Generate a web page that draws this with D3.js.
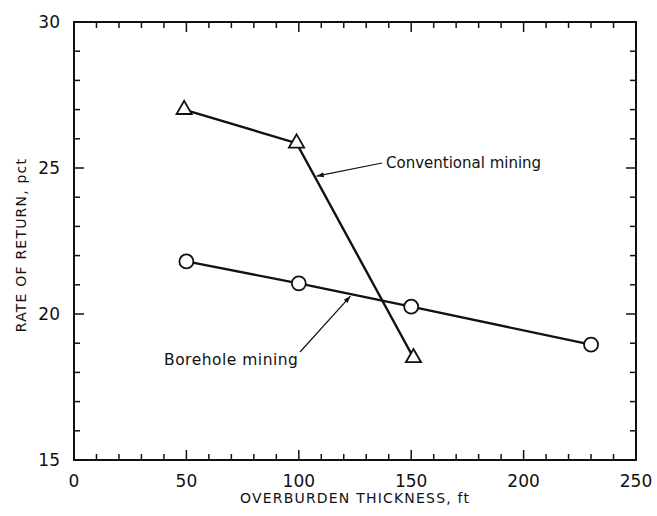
<!DOCTYPE html>
<html>
<head>
<meta charset="utf-8">
<script src="https://cdn.jsdelivr.net/npm/d3@7"></script>
<style>
  body { margin: 0; background: #fff; }
  text { font-family: 'DejaVu Sans', sans-serif; fill: #111; }
</style>
</head>
<body>
<div id="chart-area"></div>
<script>
'use strict';
const svg_width = 657;
const svg_height = 516;
const margin = {top: 22, right: 21, bottom: 56, left: 74};

// data
const conv_x = [49, 99, 151];
const conv_y = [27.0, 25.85, 18.5];
const bore_x = [50, 100, 150, 230];
const bore_y = [21.8, 21.05, 20.25, 18.95];
const x_ticks = [0, 50, 100, 150, 200, 250];
const y_ticks = [15, 20, 25, 30];

const conventional = conv_x.map((x, i) => ({x: x, y: conv_y[i]}));
const borehole = bore_x.map((x, i) => ({x: x, y: bore_y[i]}));

const svg = d3.select('#chart-area')
  .append('svg')
    .attr('width', svg_width)
    .attr('height', svg_height);

const x_scale = d3.scaleLinear()
  .domain([0, 250])
  .range([margin.left, svg_width - margin.right]);

const y_scale = d3.scaleLinear()
  .domain([15, 30])
  .range([svg_height - margin.bottom, margin.top]);

const x0 = x_scale(0), x1 = x_scale(250);
const y0 = y_scale(15), y1 = y_scale(30);

// frame
svg.append('rect')
  .attr('x', x0).attr('y', y1)
  .attr('width', x1 - x0).attr('height', y0 - y1)
  .attr('fill', 'none').attr('stroke', '#111').attr('stroke-width', 2);

// inward ticks on all four sides
const x_minor = d3.range(0, 251, 10);
const y_minor = d3.range(15, 30.5, 1);

const tick_g = svg.append('g').attr('stroke', '#111').attr('stroke-width', 1.5);
x_minor.forEach(v => {
  const len = v % 50 === 0 ? 10 : 6;
  tick_g.append('line').attr('x1', x_scale(v)).attr('x2', x_scale(v))
    .attr('y1', y0).attr('y2', y0 - len);
  tick_g.append('line').attr('x1', x_scale(v)).attr('x2', x_scale(v))
    .attr('y1', y1).attr('y2', y1 + len);
});
y_minor.forEach(v => {
  const len = v % 5 === 0 ? 10 : 6;
  tick_g.append('line').attr('y1', y_scale(v)).attr('y2', y_scale(v))
    .attr('x1', x0).attr('x2', x0 + len);
  tick_g.append('line').attr('y1', y_scale(v)).attr('y2', y_scale(v))
    .attr('x1', x1).attr('x2', x1 - len);
});

// tick labels
svg.append('g').selectAll('text').data(x_ticks).enter()
  .append('text')
    .attr('x', d => x_scale(d))
    .attr('y', y0 + 27)
    .attr('text-anchor', 'middle')
    .attr('font-size', 17)
    .text(d => d);

svg.append('g').selectAll('text').data(y_ticks).enter()
  .append('text')
    .attr('x', x0 - 14)
    .attr('y', d => y_scale(d))
    .attr('dy', '0.35em')
    .attr('text-anchor', 'end')
    .attr('font-size', 17)
    .text(d => d);

// axis titles
svg.append('text')
  .attr('x', (x0 + x1) / 2)
  .attr('y', svg_height - 13)
  .attr('text-anchor', 'middle')
  .attr('font-size', 14)
  .attr('letter-spacing', 1.2)
  .text('OVERBURDEN THICKNESS, ft');

svg.append('text')
  .attr('transform', `translate(26,${(y0 + y1) / 2 + 4}) rotate(-90)`)
  .attr('text-anchor', 'middle')
  .attr('font-size', 14)
  .attr('letter-spacing', 1.2)
  .text('RATE OF RETURN, pct');

// lines
const line = d3.line().x(d => x_scale(d.x)).y(d => y_scale(d.y));

svg.append('path').datum(conventional)
  .attr('d', line).attr('fill', 'none')
  .attr('stroke', '#111').attr('stroke-width', 2.4);

svg.append('path').datum(borehole)
  .attr('d', line).attr('fill', 'none')
  .attr('stroke', '#111').attr('stroke-width', 2.4);

// markers
svg.selectAll('.tri').data(conventional).enter()
  .append('path')
    .attr('class', 'tri')
    .attr('d', d3.symbol().type(d3.symbolTriangle).size(100))
    .attr('transform', d => `translate(${x_scale(d.x)},${y_scale(d.y)})`)
    .attr('fill', '#fff').attr('stroke', '#111').attr('stroke-width', 1.8);

svg.selectAll('.circ').data(borehole).enter()
  .append('circle')
    .attr('class', 'circ')
    .attr('cx', d => x_scale(d.x))
    .attr('cy', d => y_scale(d.y))
    .attr('r', 7)
    .attr('fill', '#fff').attr('stroke', '#111').attr('stroke-width', 1.8);

// annotations with arrows
svg.append('defs').append('marker')
  .attr('id', 'arrow')
  .attr('viewBox', '0 0 10 10')
  .attr('refX', 10).attr('refY', 5)
  .attr('markerWidth', 9).attr('markerHeight', 6)
  .attr('orient', 'auto')
  .append('path').attr('d', 'M0,1.5L10,5L0,8.5Z').attr('fill', '#111');

const interp = (pts, xv) => {
  for (let i = 0; i < pts.length - 1; i++) {
    if (xv >= pts[i].x && xv <= pts[i + 1].x) {
      const t = (xv - pts[i].x) / (pts[i + 1].x - pts[i].x);
      return pts[i].y + t * (pts[i + 1].y - pts[i].y);
    }
  }
  return pts[pts.length - 1].y;
};

const conv_at = 107;
svg.append('line')
  .attr('x1', 382).attr('y1', 163)
  .attr('x2', x_scale(conv_at) + 2).attr('y2', y_scale(interp(conventional, conv_at)))
  .attr('stroke', '#111').attr('stroke-width', 1.2)
  .attr('marker-end', 'url(#arrow)');

svg.append('text')
  .attr('x', 386).attr('y', 168)
  .attr('font-size', 15)
  .text('Conventional mining');

const bore_at = 123;
svg.append('line')
  .attr('x1', 300).attr('y1', 352)
  .attr('x2', x_scale(bore_at)).attr('y2', y_scale(interp(borehole, bore_at)) + 2)
  .attr('stroke', '#111').attr('stroke-width', 1.2)
  .attr('marker-end', 'url(#arrow)');

svg.append('text')
  .attr('x', 164).attr('y', 365)
  .attr('font-size', 15.5)
  .attr('letter-spacing', 0.5)
  .text('Borehole mining');
</script>
</body>
</html>
